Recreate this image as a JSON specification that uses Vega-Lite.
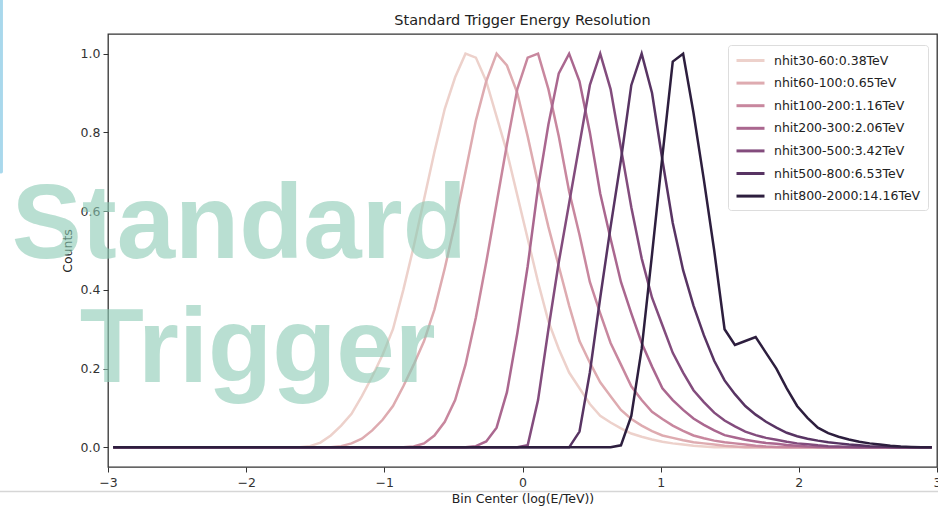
{
  "$schema": "https://vega.github.io/schema/vega-lite/v6.json",
  "width": 829,
  "height": 433,
  "autosize": {"type": "none"},
  "padding": {"left": 108, "top": 34, "right": 1, "bottom": 40},
  "background": "white",
  "title": {"text": "Standard Trigger Energy Resolution", "font": "DejaVu Sans", "fontSize": 14.5, "fontWeight": "normal", "color": "#222222", "anchor": "middle", "frame": "group", "offset": 7, "dy": 39},
  "config": {
    "view": {"stroke": "#333333", "strokeWidth": 1.3},
    "axis": {"grid": false, "domain": false, "tickSize": 5, "tickColor": "#333333", "tickWidth": 1, "labelFont": "DejaVu Sans", "labelFontSize": 12.5, "labelColor": "#333333", "titleFont": "DejaVu Sans", "titleFontSize": 12.5, "titleFontWeight": "normal", "titleColor": "#222222"}
  },
  "datasets": {
    "labels": [
      {"k": "a", "series": "nhit30-60:0.38TeV"},
      {"k": "b", "series": "nhit60-100:0.65TeV"},
      {"k": "c", "series": "nhit100-200:1.16TeV"},
      {"k": "d", "series": "nhit200-300:2.06TeV"},
      {"k": "e", "series": "nhit300-500:3.42TeV"},
      {"k": "f", "series": "nhit500-800:6.53TeV"},
      {"k": "g", "series": "nhit800-2000:14.16TeV"}
    ],
    "curves": [
      {"x": -2.9625, "a": 0, "b": 0, "c": 0, "d": 0, "e": 0, "f": 0, "g": 0},
      {"x": -1.6125, "a": 0, "b": 0, "c": 0, "d": 0, "e": 0, "f": 0, "g": 0},
      {"x": -1.5375, "a": 0.003, "b": 0, "c": 0, "d": 0, "e": 0, "f": 0, "g": 0},
      {"x": -1.4625, "a": 0.012, "b": 0, "c": 0, "d": 0, "e": 0, "f": 0, "g": 0},
      {"x": -1.3875, "a": 0.03, "b": 0, "c": 0, "d": 0, "e": 0, "f": 0, "g": 0},
      {"x": -1.3125, "a": 0.055, "b": 0.003, "c": 0, "d": 0, "e": 0, "f": 0, "g": 0},
      {"x": -1.2375, "a": 0.085, "b": 0.01, "c": 0, "d": 0, "e": 0, "f": 0, "g": 0},
      {"x": -1.1625, "a": 0.13, "b": 0.022, "c": 0, "d": 0, "e": 0, "f": 0, "g": 0},
      {"x": -1.0875, "a": 0.18, "b": 0.043, "c": 0, "d": 0, "e": 0, "f": 0, "g": 0},
      {"x": -1.0125, "a": 0.235, "b": 0.07, "c": 0, "d": 0, "e": 0, "f": 0, "g": 0},
      {"x": -0.9375, "a": 0.3, "b": 0.105, "c": 0, "d": 0, "e": 0, "f": 0, "g": 0},
      {"x": -0.8625, "a": 0.4, "b": 0.155, "c": 0, "d": 0, "e": 0, "f": 0, "g": 0},
      {"x": -0.7875, "a": 0.51, "b": 0.21, "c": 0.002, "d": 0, "e": 0, "f": 0, "g": 0},
      {"x": -0.7125, "a": 0.63, "b": 0.27, "c": 0.01, "d": 0, "e": 0, "f": 0, "g": 0},
      {"x": -0.6375, "a": 0.75, "b": 0.35, "c": 0.03, "d": 0, "e": 0, "f": 0, "g": 0},
      {"x": -0.5625, "a": 0.86, "b": 0.455, "c": 0.065, "d": 0, "e": 0, "f": 0, "g": 0},
      {"x": -0.4875, "a": 0.94, "b": 0.57, "c": 0.12, "d": 0, "e": 0, "f": 0, "g": 0},
      {"x": -0.4125, "a": 1.0, "b": 0.7, "c": 0.21, "d": 0, "e": 0, "f": 0, "g": 0},
      {"x": -0.3375, "a": 0.99, "b": 0.83, "c": 0.33, "d": 0.003, "e": 0, "f": 0, "g": 0},
      {"x": -0.2625, "a": 0.93, "b": 0.93, "c": 0.47, "d": 0.015, "e": 0, "f": 0, "g": 0},
      {"x": -0.1875, "a": 0.84, "b": 1.0, "c": 0.62, "d": 0.05, "e": 0, "f": 0, "g": 0},
      {"x": -0.1125, "a": 0.75, "b": 0.97, "c": 0.77, "d": 0.14, "e": 0, "f": 0, "g": 0},
      {"x": -0.0375, "a": 0.64, "b": 0.9, "c": 0.91, "d": 0.29, "e": 0, "f": 0, "g": 0},
      {"x": 0.0375, "a": 0.53, "b": 0.79, "c": 0.99, "d": 0.46, "e": 0.005, "f": 0, "g": 0},
      {"x": 0.1125, "a": 0.42, "b": 0.67, "c": 1.0, "d": 0.66, "e": 0.12, "f": 0, "g": 0},
      {"x": 0.1875, "a": 0.32, "b": 0.56, "c": 0.91, "d": 0.82, "e": 0.3, "f": 0, "g": 0},
      {"x": 0.2625, "a": 0.25, "b": 0.46, "c": 0.79, "d": 0.95, "e": 0.47, "f": 0, "g": 0},
      {"x": 0.3375, "a": 0.19, "b": 0.36, "c": 0.65, "d": 1.0, "e": 0.62, "f": 0, "g": 0},
      {"x": 0.4125, "a": 0.15, "b": 0.27, "c": 0.54, "d": 0.93, "e": 0.77, "f": 0.04, "g": 0},
      {"x": 0.4875, "a": 0.11, "b": 0.215, "c": 0.42, "d": 0.8, "e": 0.92, "f": 0.19, "g": 0},
      {"x": 0.5625, "a": 0.08, "b": 0.165, "c": 0.34, "d": 0.645, "e": 1.0, "f": 0.38, "g": 0},
      {"x": 0.6375, "a": 0.063, "b": 0.13, "c": 0.265, "d": 0.53, "e": 0.91, "f": 0.56, "g": 0},
      {"x": 0.7125, "a": 0.048, "b": 0.095, "c": 0.21, "d": 0.42, "e": 0.76, "f": 0.73, "g": 0.005},
      {"x": 0.7875, "a": 0.035, "b": 0.072, "c": 0.155, "d": 0.34, "e": 0.61, "f": 0.92, "g": 0.08},
      {"x": 0.8625, "a": 0.027, "b": 0.055, "c": 0.12, "d": 0.265, "e": 0.48, "f": 1.0, "g": 0.25},
      {"x": 0.9375, "a": 0.02, "b": 0.041, "c": 0.09, "d": 0.205, "e": 0.38, "f": 0.9, "g": 0.49},
      {"x": 1.0125, "a": 0.014, "b": 0.03, "c": 0.072, "d": 0.15, "e": 0.31, "f": 0.73, "g": 0.74},
      {"x": 1.0875, "a": 0.01, "b": 0.024, "c": 0.055, "d": 0.12, "e": 0.24, "f": 0.57, "g": 0.98},
      {"x": 1.1625, "a": 0.007, "b": 0.018, "c": 0.042, "d": 0.095, "e": 0.19, "f": 0.45, "g": 1.0},
      {"x": 1.2375, "a": 0.004, "b": 0.013, "c": 0.03, "d": 0.073, "e": 0.145, "f": 0.36, "g": 0.85},
      {"x": 1.3125, "a": 0.002, "b": 0.01, "c": 0.023, "d": 0.057, "e": 0.115, "f": 0.285, "g": 0.68},
      {"x": 1.3875, "a": 0, "b": 0.007, "c": 0.017, "d": 0.043, "e": 0.088, "f": 0.22, "g": 0.5},
      {"x": 1.4625, "a": 0, "b": 0.004, "c": 0.013, "d": 0.031, "e": 0.068, "f": 0.17, "g": 0.3},
      {"x": 1.5375, "a": 0, "b": 0.002, "c": 0.01, "d": 0.025, "e": 0.053, "f": 0.135, "g": 0.26},
      {"x": 1.6125, "a": 0, "b": 0, "c": 0.007, "d": 0.019, "e": 0.04, "f": 0.105, "g": 0.27},
      {"x": 1.6875, "a": 0, "b": 0, "c": 0.004, "d": 0.015, "e": 0.031, "f": 0.083, "g": 0.28},
      {"x": 1.7625, "a": 0, "b": 0, "c": 0.002, "d": 0.011, "e": 0.024, "f": 0.065, "g": 0.24},
      {"x": 1.8375, "a": 0, "b": 0, "c": 0.001, "d": 0.009, "e": 0.019, "f": 0.05, "g": 0.2},
      {"x": 1.9125, "a": 0, "b": 0, "c": 0, "d": 0.006, "e": 0.014, "f": 0.037, "g": 0.15},
      {"x": 1.9875, "a": 0, "b": 0, "c": 0, "d": 0.004, "e": 0.01, "f": 0.028, "g": 0.105},
      {"x": 2.0625, "a": 0, "b": 0, "c": 0, "d": 0.002, "e": 0.008, "f": 0.022, "g": 0.075},
      {"x": 2.1375, "a": 0, "b": 0, "c": 0, "d": 0.001, "e": 0.005, "f": 0.017, "g": 0.05},
      {"x": 2.2125, "a": 0, "b": 0, "c": 0, "d": 0, "e": 0.003, "f": 0.013, "g": 0.036},
      {"x": 2.2875, "a": 0, "b": 0, "c": 0, "d": 0, "e": 0.002, "f": 0.01, "g": 0.027},
      {"x": 2.3625, "a": 0, "b": 0, "c": 0, "d": 0, "e": 0.001, "f": 0.007, "g": 0.02},
      {"x": 2.4375, "a": 0, "b": 0, "c": 0, "d": 0, "e": 0, "f": 0.005, "g": 0.014},
      {"x": 2.5125, "a": 0, "b": 0, "c": 0, "d": 0, "e": 0, "f": 0.003, "g": 0.01},
      {"x": 2.5875, "a": 0, "b": 0, "c": 0, "d": 0, "e": 0, "f": 0.002, "g": 0.007},
      {"x": 2.6625, "a": 0, "b": 0, "c": 0, "d": 0, "e": 0, "f": 0.001, "g": 0.004},
      {"x": 2.7375, "a": 0, "b": 0, "c": 0, "d": 0, "e": 0, "f": 0, "g": 0.002},
      {"x": 2.8125, "a": 0, "b": 0, "c": 0, "d": 0, "e": 0, "f": 0, "g": 0.001},
      {"x": 2.8875, "a": 0, "b": 0, "c": 0, "d": 0, "e": 0, "f": 0, "g": 0},
      {"x": 2.9625, "a": 0, "b": 0, "c": 0, "d": 0, "e": 0, "f": 0, "g": 0}
    ]
  },
  "layer": [
    {
      "data": {"name": "curves"},
      "transform": [
        {"fold": ["a", "b", "c", "d", "e", "f", "g"], "as": ["k", "y"]},
        {"lookup": "k", "from": {"data": {"name": "labels"}, "key": "k", "fields": ["series"]}}
      ],
      "mark": {"type": "line", "strokeWidth": 2.5},
      "encoding": {
        "x": {"field": "x", "type": "quantitative", "scale": {"domain": [-3, 3], "nice": false, "zero": false},
              "axis": {"title": "Bin Center (log(E/TeV))", "values": [-3, -2, -1, 0, 1, 2, 3], "format": "d", "labelPadding": 4, "titlePadding": 4, "labelFlush": false}},
        "y": {"field": "y", "type": "quantitative", "scale": {"domain": [-0.05, 1.05], "nice": false, "zero": false},
              "axis": {"title": "Counts", "values": [0, 0.2, 0.4, 0.6, 0.8, 1.0], "format": ".1f", "labelPadding": 3, "titlePadding": 6}},
        "color": {"field": "series", "type": "nominal",
                  "scale": {"domain": ["nhit30-60:0.38TeV", "nhit60-100:0.65TeV", "nhit100-200:1.16TeV", "nhit200-300:2.06TeV", "nhit300-500:3.42TeV", "nhit500-800:6.53TeV", "nhit800-2000:14.16TeV"],
                            "range": ["#edd1cb", "#deabb0", "#c8879e", "#aa678f", "#834c7d", "#583463", "#2d1e3e"]},
                  "legend": {"title": null, "orient": "none", "legendX": 620, "legendY": 11, "symbolType": "M-1,0H3", "symbolSize": 196, "symbolStrokeWidth": 3, "labelFont": "DejaVu Sans", "labelFontSize": 12.5, "labelColor": "#222222", "labelOffset": 22, "rowPadding": 7.6, "padding": 7, "strokeColor": "#dddddd", "fillColor": "white", "cornerRadius": 3, "labelLimit": 300}}
      }
    },
    {
      "data": {"values": [{"t": "Standard", "x": -3.697, "y": 0.48}, {"t": "Trigger", "x": -3.205, "y": 0.167}]},
      "mark": {"type": "text", "font": "Liberation Sans", "fontWeight": "bold", "fontSize": 105, "align": "left", "baseline": "alphabetic", "color": "#8ccbb5", "opacity": 0.6},
      "encoding": {
        "x": {"field": "x", "type": "quantitative", "scale": {"domain": [-3, 3], "nice": false, "zero": false}},
        "y": {"field": "y", "type": "quantitative", "scale": {"domain": [-0.05, 1.05], "nice": false, "zero": false}},
        "text": {"field": "t"}
      }
    },
    {
      "data": {"values": [{}]},
      "mark": {"type": "rule", "color": "#d6d6d6", "strokeWidth": 1.5},
      "encoding": {
        "x": {"datum": -3.79, "type": "quantitative"},
        "x2": {"datum": 3.02},
        "y": {"datum": -0.112, "type": "quantitative"}
      }
    },
    {
      "data": {"values": [{}]},
      "mark": {"type": "rule", "color": "#a9d8ec", "strokeWidth": 3.5, "strokeCap": "round"},
      "encoding": {
        "x": {"datum": -3.773, "type": "quantitative"},
        "y": {"datum": 1.14, "type": "quantitative"},
        "y2": {"datum": 0.7}
      }
    }
  ]
}
